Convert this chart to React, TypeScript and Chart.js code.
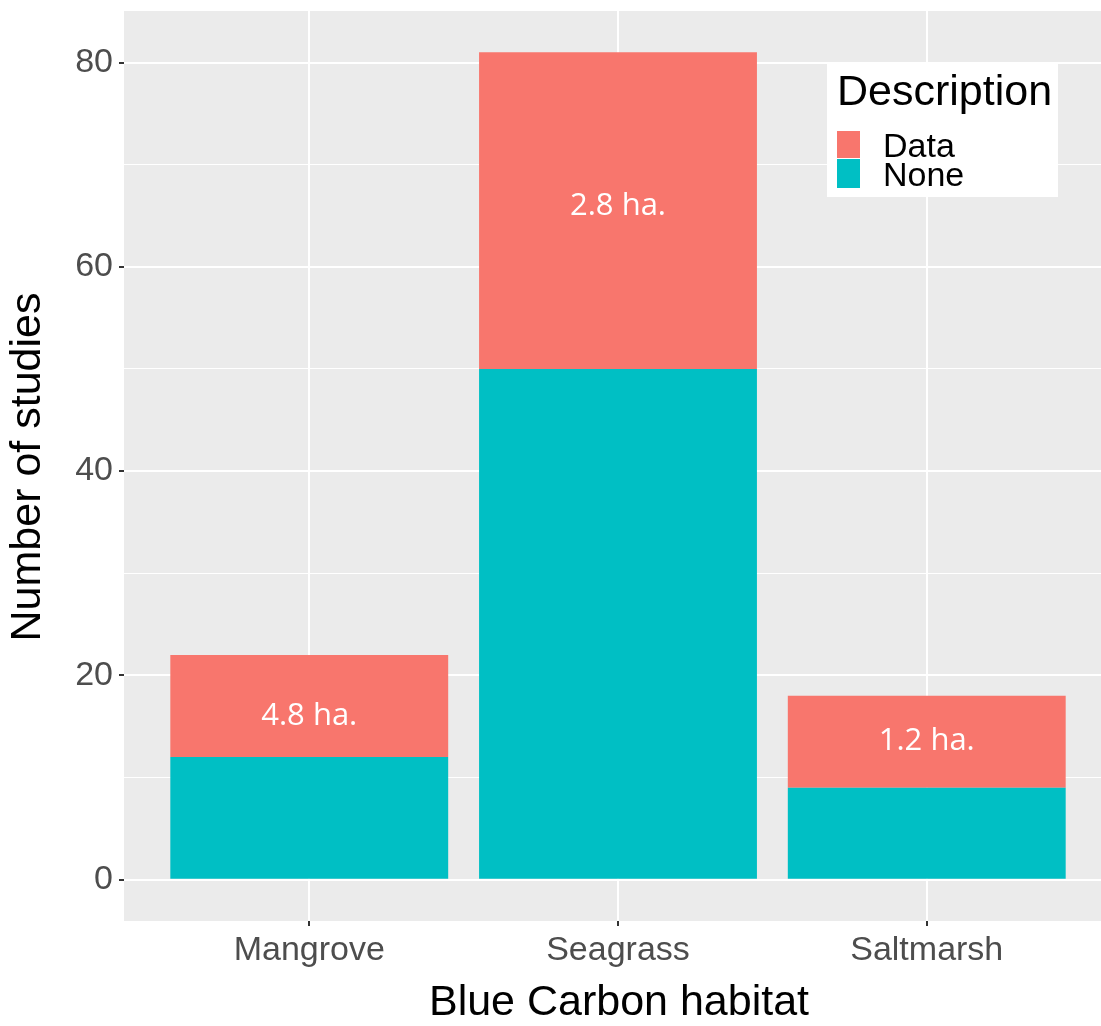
import React, { useEffect, useRef } from 'react';
import { Chart, registerables } from 'chart.js';

Chart.register(...registerables);

const categories = ['Mangrove', 'Seagrass', 'Saltmarsh'];
const categoryPositions = [1, 2, 3];
const noneValues = [12, 50, 9];
const dataValues = [10, 31, 9];
const barLabels = ['4.8 ha.', '2.8 ha.', '1.2 ha.'];
const barLabelY = [16, 65.9, 13.6];
const yTicks = [0, 10, 20, 30, 40, 50, 60, 70, 80];
const yLabelTicks = [0, 20, 40, 60, 80];
const legendTitle = 'Description';
const legendItems = ['Data', 'None'];
const legendColors = ['#F8766D', '#00BFC4'];
const xTitle = 'Blue Carbon habitat';
const yTitle = 'Number of studies';

const FONT = 'Liberation Sans, Arial, sans-serif';

export default function App() {
  const ref = useRef<HTMLCanvasElement | null>(null);

  useEffect(() => {
    const canvas = ref.current;
    if (!canvas) return;

    const bgPlugin = {
      id: 'bg',
      beforeDraw(chart: any) {
        const { ctx, chartArea } = chart;
        ctx.save();
        ctx.fillStyle = '#FFFFFF';
        ctx.fillRect(0, 0, chart.width, chart.height);
        ctx.fillStyle = '#EBEBEB';
        ctx.fillRect(chartArea.left, chartArea.top, chartArea.right - chartArea.left, chartArea.bottom - chartArea.top);
        ctx.restore();
      },
    };

    const labelPlugin = {
      id: 'barLabels',
      afterDatasetsDraw(chart: any) {
        const { ctx } = chart;
        const xs = chart.scales.x;
        const ys = chart.scales.y;
        ctx.save();
        ctx.fillStyle = '#FFFFFF';
        ctx.font = '31px "Open Sans", sans-serif';
        ctx.textAlign = 'center';
        ctx.textBaseline = 'middle';
        barLabels.forEach((t, i) => {
          ctx.fillText(t, xs.getPixelForValue(categoryPositions[i]), ys.getPixelForValue(barLabelY[i]));
        });
        ctx.restore();
      },
    };

    const decoPlugin = {
      id: 'deco',
      afterDraw(chart: any) {
        const { ctx } = chart;
        ctx.save();
        // legend
        ctx.fillStyle = '#FFFFFF';
        ctx.fillRect(827, 63, 231, 134);
        ctx.fillStyle = '#000000';
        ctx.font = `43px ${FONT}`;
        ctx.textAlign = 'left';
        ctx.textBaseline = 'alphabetic';
        ctx.fillText(legendTitle, 837, 105);
        const keyTops = [131, 159];
        const keyH = [27, 29];
        const baselines = [157, 186];
        ctx.font = `34px ${FONT}`;
        legendItems.forEach((it, i) => {
          ctx.fillStyle = legendColors[i];
          ctx.fillRect(837, keyTops[i], 23, keyH[i]);
          ctx.fillStyle = '#000000';
          ctx.fillText(it, 883, baselines[i]);
        });
        // axis titles
        ctx.font = `43px ${FONT}`;
        ctx.textAlign = 'center';
        ctx.fillText(xTitle, 619, 1015);
        ctx.translate(28, 467);
        ctx.rotate(-Math.PI / 2);
        ctx.textBaseline = 'middle';
        ctx.fillText(yTitle, 0, 0);
        ctx.restore();
      },
    };

    const chart = new Chart(canvas, {
      type: 'bar',
      data: {
        datasets: [
          {
            label: legendItems[1],
            data: categoryPositions.map((x, i) => ({ x, y: noneValues[i] })),
            backgroundColor: legendColors[1],
            barPercentage: 0.9,
            categoryPercentage: 1,
          },
          {
            label: legendItems[0],
            data: categoryPositions.map((x, i) => ({ x, y: dataValues[i] })),
            backgroundColor: legendColors[0],
            barPercentage: 0.9,
            categoryPercentage: 1,
          },
        ],
      },
      options: {
        responsive: false,
        animation: false,
        layout: { padding: { top: 11, left: 0, right: 0, bottom: 0 } },
        plugins: { legend: { display: false }, tooltip: { enabled: false } },
        scales: {
          x: {
            type: 'linear',
            stacked: true,
            min: 0.4,
            max: 3.6,
            offset: false,
            afterBuildTicks: (s: any) => {
              s.ticks = categoryPositions.map((v) => ({ value: v }));
            },
            afterFit: (s: any) => {
              s.height = 105;
              s.paddingLeft = 0;
              s.paddingRight = 0;
            },
            ticks: {
              callback: (v: any) => categories[categoryPositions.indexOf(Number(v))] ?? '',
              font: { family: FONT, size: 34 },
              color: '#4D4D4D',
              padding: 4,
              maxRotation: 0,
              autoSkip: false,
            },
            grid: {
              color: '#FFFFFF',
              lineWidth: 2,
              tickColor: '#333333',
              tickLength: 5,
              offset: false,
              drawTicks: true,
            },
            border: { display: false },
          },
          y: {
            type: 'linear',
            stacked: true,
            min: -4.05,
            max: 85.05,
            afterBuildTicks: (s: any) => {
              s.ticks = yTicks.map((v) => ({ value: v }));
            },
            afterFit: (s: any) => {
              s.width = 124;
              s.paddingTop = 0;
              s.paddingBottom = 0;
            },
            ticks: {
              callback: (v: any) => (yLabelTicks.includes(Number(v)) ? String(v) : ''),
              font: { family: FONT, size: 34 },
              color: '#4D4D4D',
              padding: 6,
              autoSkip: false,
            },
            grid: {
              color: '#FFFFFF',
              lineWidth: (c: any) => (c.tick && yLabelTicks.includes(c.tick.value) ? 2 : 1),
              tickColor: (c: any) => (c.tick && yLabelTicks.includes(c.tick.value) ? '#333333' : 'rgba(0,0,0,0)'),
              tickLength: 5,
              drawTicks: true,
            },
            border: { display: false },
          },
        },
      },
      plugins: [bgPlugin, labelPlugin, decoPlugin],
    } as any);

    return () => chart.destroy();
  }, []);

  return (
    <div style={{ position: 'absolute', left: 0, top: 0, width: 1101, height: 1026, overflow: 'hidden', background: '#FFFFFF' }}>
      <canvas ref={ref} width={1112} height={1026} style={{ display: 'block', width: 1112, height: 1026 }} />
    </div>
  );
}
